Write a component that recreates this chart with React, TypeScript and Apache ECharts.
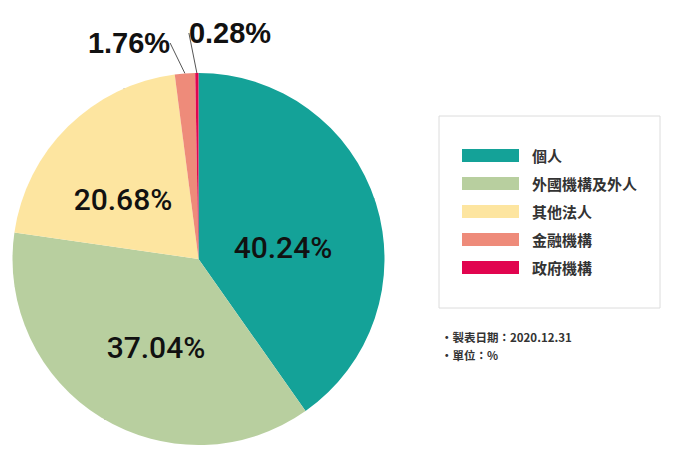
import React, { useEffect, useRef } from 'react';
import * as echarts from 'echarts';

const CATEGORIES = ['個人', '外國機構及外人', '其他法人', '金融機構', '政府機構'];
const VALUES = [40.24, 37.04, 20.68, 1.76, 0.28];
const COLORS = ['#14a298', '#b8cf9f', '#fde5a0', '#ee8b7a', '#e1044f'];
// label centres as placed in the original artwork
const LABEL_POS: [number, number][] = [
  [283, 247],
  [156, 347],
  [123, 199],
  [129, 43],
  [230, 33],
];
const NOTES = ['・製表日期：2020.12.31', '・單位：%'];

const CJK = '"Noto Sans CJK TC", "Noto Sans", sans-serif';
const NUM_IN = 'Roboto, "Liberation Sans", Arial, sans-serif';
const NUM_OUT = '"Liberation Sans", Arial, sans-serif';

const App = (): JSX.Element => {
  const divEL = useRef<HTMLDivElement>(null);

  useEffect(() => {
    document.body.style.margin = '0';
    const instance = echarts.init(divEL.current as any, null, { renderer: 'svg' });

    const option: any = {
      animation: false,
      backgroundColor: '#ffffff',
      color: COLORS,
      legend: {
        orient: 'vertical',
        left: 462,
        top: 148,
        padding: 0,
        z: 10,
        icon: 'rect',
        itemWidth: 57,
        itemHeight: 13,
        itemGap: 13,
        data: CATEGORIES,
        textStyle: {
          fontFamily: CJK,
          fontSize: 15,
          fontWeight: 'bold',
          color: '#333333',
          padding: [0, 0, 0, 8],
        },
      },
      graphic: [
        {
          type: 'rect',
          z: 1,
          shape: { x: 439, y: 116, width: 221, height: 192 },
          style: { fill: '#ffffff', stroke: '#dcdcdc', lineWidth: 1 },
        },
        ...NOTES.map((t, i) => ({
          type: 'text',
          x: 441,
          y: 337 + i * 18,
          style: {
            text: t,
            fill: '#333333',
            font: `bold 11.5px ${CJK}`,
            verticalAlign: 'middle',
          },
        })),
      ],
      series: [
        {
          type: 'pie',
          center: [198.5, 259],
          radius: 186,
          startAngle: 90,
          clockwise: true,
          avoidLabelOverlap: false,
          data: CATEGORIES.map((name, i) => {
            const small = VALUES[i] < 5;
            return {
              name,
              value: VALUES[i],
              label: small
                ? { position: 'outside', fontFamily: NUM_OUT, fontSize: 29, fontWeight: 'bold' }
                : { position: 'inside', fontFamily: NUM_IN, fontSize: 30, fontWeight: 500 },
            };
          }),
          label: {
            formatter: (p: any) => `${p.value.toFixed(2)}%`,
            color: '#111111',
          },
          labelLine: {
            show: true,
            length: 16,
            length2: 0,
            lineStyle: { color: '#555555', width: 1 },
          },
          labelLayout: (p: any) => {
            const pos = LABEL_POS[p.dataIndex];
            return {
              x: pos[0],
              y: pos[1],
              align: 'center',
              verticalAlign: 'middle',
            };
          },
        },
      ],
    };

    instance.setOption(option);

    return () => {
      instance.dispose();
    };
  }, []);

  return <div ref={divEL} style={{ width: 673, height: 449 }}></div>;
};

export default App;
